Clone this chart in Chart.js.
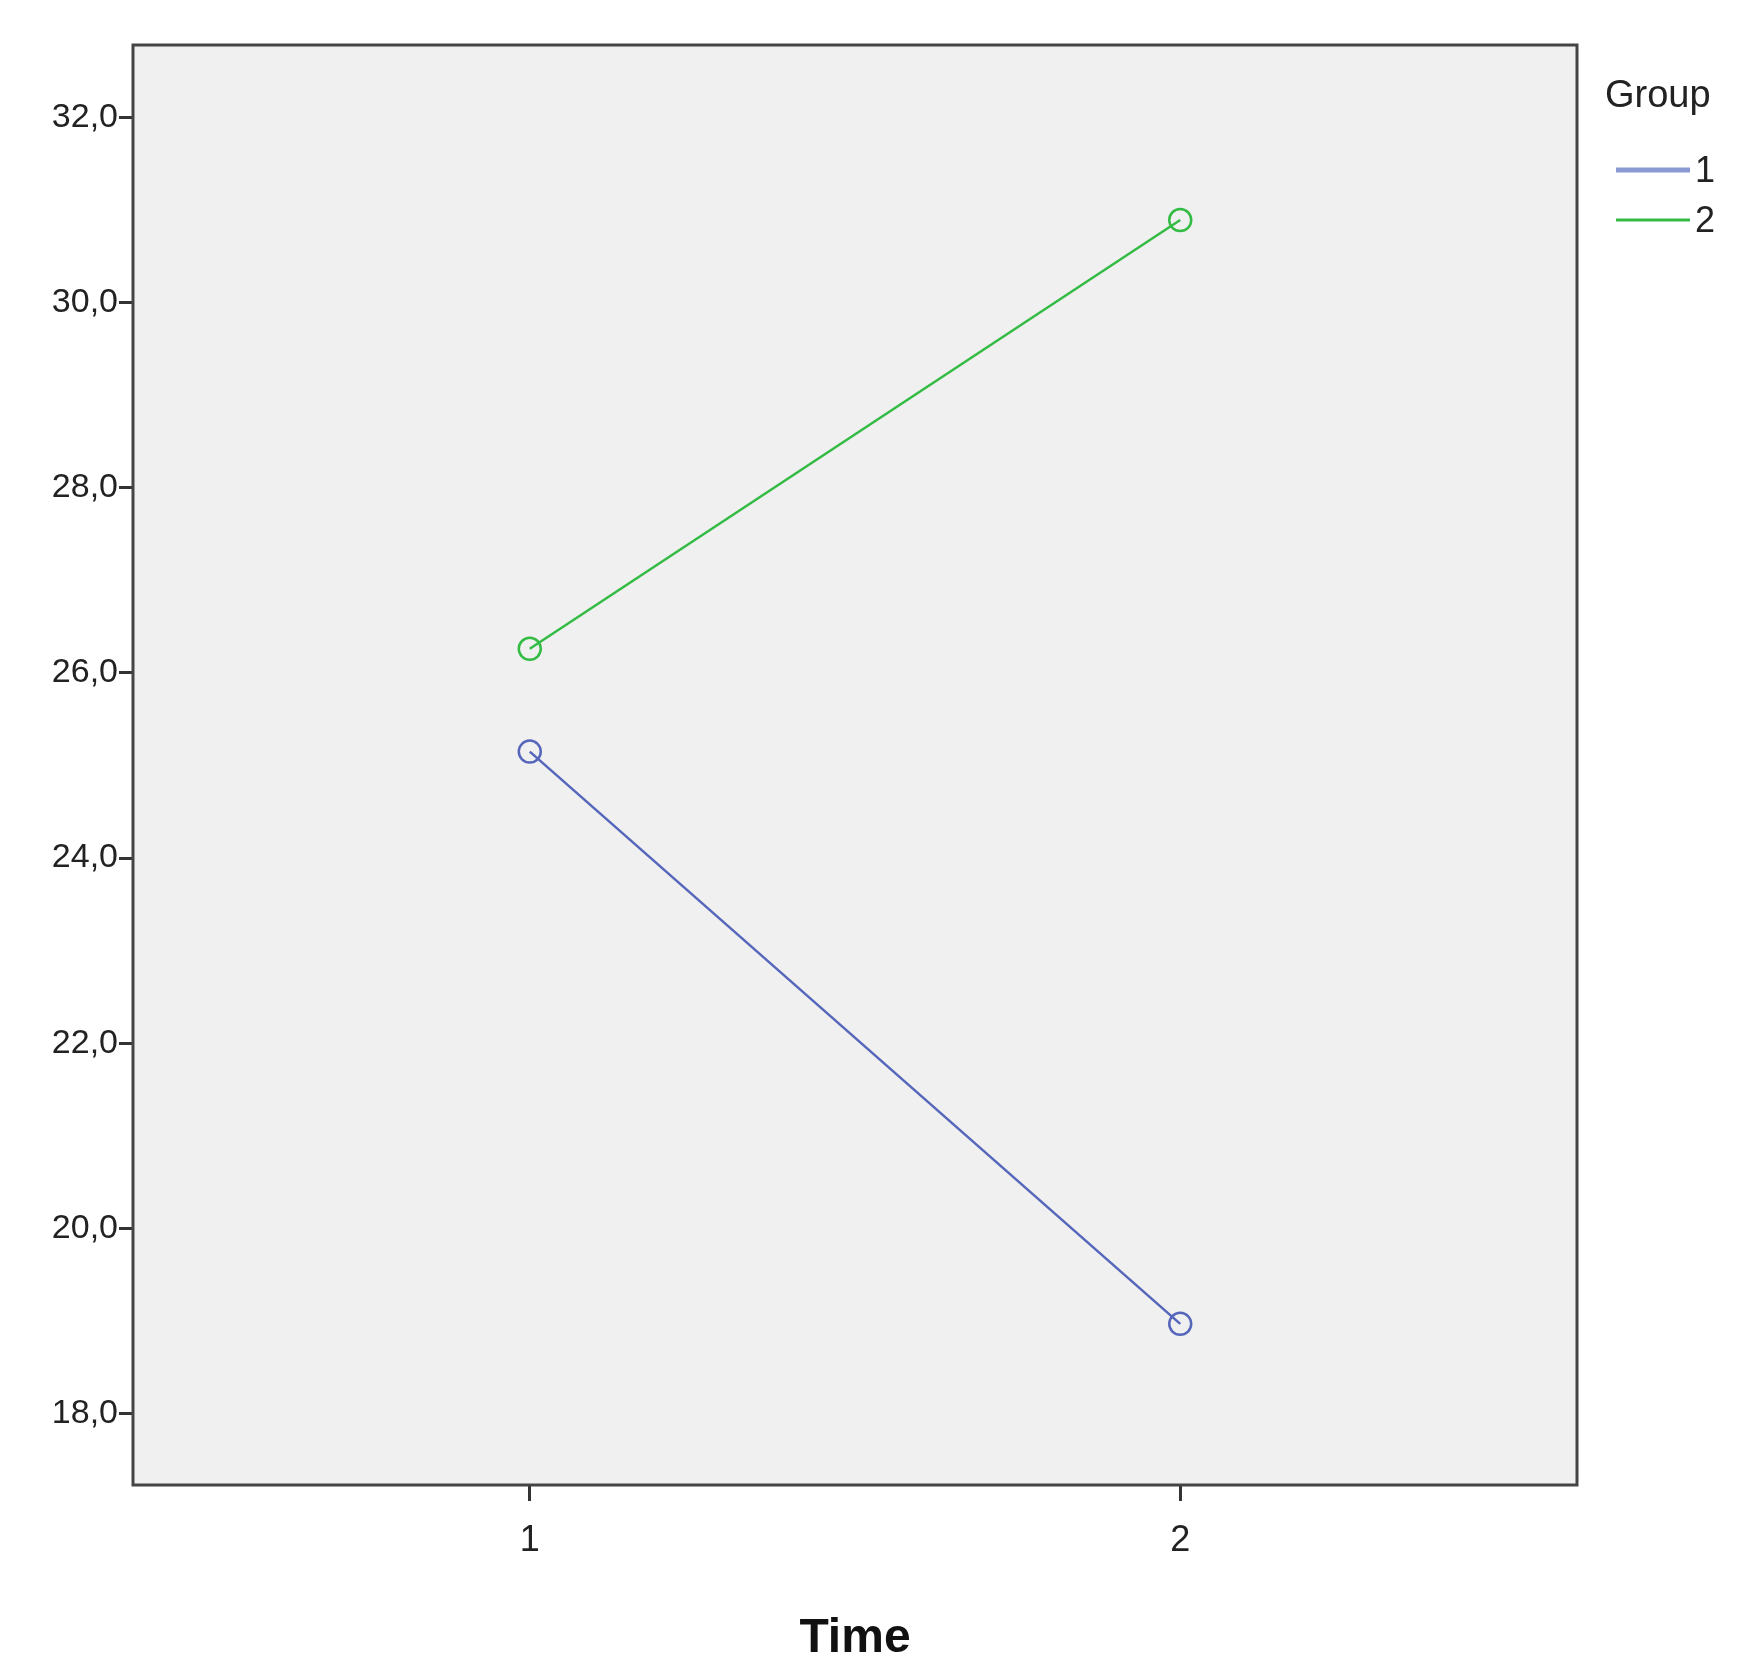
<!DOCTYPE html>
<html><head><meta charset="utf-8">
<script src="https://cdn.jsdelivr.net/npm/chart.js@4"></script>
<style>html,body{margin:0;padding:0;background:#fff}</style>
</head><body>
<canvas id="c" width="1754" height="1672"></canvas>
<script>
const timePoints = [1, 2];
const group1 = [25.15, 18.97];
const group2 = [26.26, 30.89];
const yTicks = [18, 20, 22, 24, 26, 28, 30, 32];
const xTicks = [1, 2];
const seriesNames = ['1', '2'];
const colors = ['#5566bb', '#33bb44'];

const frame = {
  id: 'frame',
  beforeDatasetsDraw(chart) {
    const a = chart.chartArea, c = chart.ctx;
    c.save(); c.fillStyle = '#f0f0f0'; c.fillRect(a.left, a.top, a.right - a.left, a.bottom - a.top); c.restore();
  },
  afterDraw(chart) {
    const a = chart.chartArea, c = chart.ctx;
    c.save();
    c.strokeStyle = '#444'; c.lineWidth = 3;
    c.strokeRect(a.left, a.top, a.right - a.left, a.bottom - a.top);
    c.fillStyle = '#222'; c.textBaseline = 'middle';
    c.font = '38px "Liberation Sans", Arial';
    c.fillText('Group', 1605, 97);
    const legendColors = ['#8a99d4', colors[1]];
    const widths = [5, 3];
    [170, 220].forEach((y, i) => {
      c.strokeStyle = legendColors[i]; c.lineWidth = widths[i];
      c.beginPath(); c.moveTo(1616, y); c.lineTo(1690, y); c.stroke();
      c.font = '36px "Liberation Sans", Arial';
      c.fillText(seriesNames[i], 1695, y + 2);
    });
    c.restore();
  }
};

new Chart(document.getElementById('c'), {
  type: 'line',
  data: {
    datasets: [
      { label: seriesNames[0], data: timePoints.map((t, i) => ({x: t, y: group1[i]})), borderColor: colors[0], backgroundColor: 'transparent', borderWidth: 2.5, pointRadius: 11, pointBorderWidth: 2.5, pointBorderColor: colors[0], pointBackgroundColor: 'transparent' },
      { label: seriesNames[1], data: timePoints.map((t, i) => ({x: t, y: group2[i]})), borderColor: colors[1], backgroundColor: 'transparent', borderWidth: 2.5, pointRadius: 11, pointBorderWidth: 2.5, pointBorderColor: colors[1], pointBackgroundColor: 'transparent' }
    ]
  },
  options: {
    responsive: false, devicePixelRatio: 1, animation: false,
    layout: { padding: { top: 45, right: 177, left: 0, bottom: 0 } },
    plugins: { legend: { display: false }, tooltip: { enabled: false } },
    scales: {
      x: {
        type: 'linear', min: 0.39, max: 2.61,
        afterBuildTicks: s => { s.ticks = xTicks.map(v => ({value: v})); },
        afterFit: s => { s.height = 187; },
        grid: { drawOnChartArea: false, tickLength: 16, color: '#333', lineWidth: 3 },
        border: { display: false },
        ticks: { color: '#222', font: { size: 36, family: '"Liberation Sans", Arial' }, padding: 18, callback: v => String(v) },
        title: { display: true, text: 'Time', color: '#111', font: { size: 48, weight: 'bold', family: '"Liberation Sans", Arial' }, padding: { top: 22 } }
      },
      y: {
        min: 17.23, max: 32.78,
        afterBuildTicks: s => { s.ticks = yTicks.map(v => ({value: v})); },
        afterFit: s => { s.width = 133; },
        grid: { drawOnChartArea: false, tickLength: 14, color: '#333', lineWidth: 3 },
        border: { display: false },
        ticks: { color: '#222', font: { size: 34, family: '"Liberation Sans", Arial' }, padding: 1, callback: v => v.toFixed(1).replace('.', ',') }
      }
    }
  },
  plugins: [frame]
});
</script>
</body></html>
